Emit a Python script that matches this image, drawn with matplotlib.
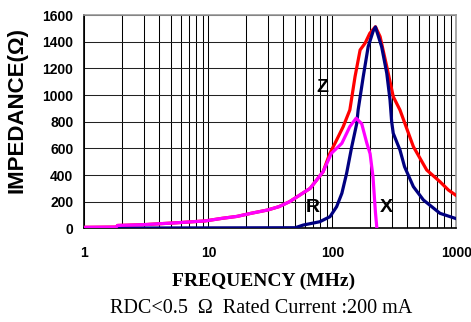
import numpy as np
import matplotlib
matplotlib.use("Agg")
from matplotlib import pyplot as plt
from matplotlib.ticker import FixedLocator, NullFormatter

# R curve (magenta)
r_freq = [1, 1.8, 1.85, 3, 5.5, 9.4, 13, 17, 22, 30, 37, 45, 66, 84, 98, 119, 138, 155, 172, 189, 201, 212, 222, 228]
r_val = [8, 10, 22, 28, 42, 56, 76, 90, 113, 138, 163, 200, 300, 425, 563, 638, 763, 826, 785, 640, 560, 390, 120, 0]

# X curve (navy)
x_freq = [1, 50, 58, 79, 95.5, 108, 119, 130, 143, 157, 161, 177, 194, 213, 222, 249, 274, 291, 300, 309,
          350, 381, 449, 541, 736, 972, 1000]
x_val = [2, 5, 25, 50, 88, 163, 263, 413, 613, 788, 888, 1138, 1363, 1480, 1510, 1363, 1163, 963, 800, 713,
         588, 463, 313, 213, 113, 76, 72]

# Z curve (red)
z_freq = [1, 1.8, 1.85, 3, 5.5, 9.4, 13, 17, 22, 30, 37, 45, 66, 84, 95, 108, 122, 138, 152, 167, 183, 200,
          222, 242, 274, 309, 350, 449, 575, 736, 860, 1000]
z_val = [8, 10, 22, 28, 42, 56, 76, 90, 113, 138, 163, 200, 300, 425, 560, 663, 763, 888, 1138, 1338, 1388, 1463,
         1512, 1438, 1213, 988, 888, 613, 438, 350, 288, 245]

labels = {"Z": (83, 1060), "R": (69, 160), "X": (274, 160)}

fig = plt.figure(figsize=(4.71, 3.22), dpi=100)
ax = fig.add_axes([0.1794, 0.2907, 0.7898, 0.6627])

ax.set_xscale("log")
ax.set_xlim(1, 1000)
ax.set_ylim(0, 1600)

ax.xaxis.set_major_locator(FixedLocator([1, 10, 100, 1000]))
ax.xaxis.set_minor_locator(FixedLocator([m * 10 ** d for d in range(3) for m in range(2, 10)]))
ax.xaxis.set_minor_formatter(NullFormatter())
ax.set_xticklabels(["1", "10", "100", "1000"])
ax.set_yticks(range(0, 1601, 200))

ax.grid(True, which="both", axis="x", color="black", lw=0.75)
ax.grid(True, which="major", axis="y", color="#222222", lw=0.75)
ax.set_axisbelow(True)

ax.plot(z_freq, z_val, color="#ff0000", lw=2.3, zorder=3)
ax.plot(x_freq, x_val, color="#000080", lw=2.3, zorder=4)
ax.plot(r_freq, r_val, color="#ff00ff", lw=2.3, zorder=5)

for name, (fx, fy) in labels.items():
    ax.text(fx, fy, name, fontsize=14, fontweight="bold", family="Liberation Sans",
            ha="center", va="center", zorder=6)

ax.tick_params(axis="y", which="both", length=0, pad=8)
ax.tick_params(axis="x", which="both", length=0, pad=13)
for lab in ax.get_xticklabels() + ax.get_yticklabels():
    lab.set_fontfamily("Liberation Sans")
    lab.set_fontweight("bold")
    lab.set_fontsize(10)

for side in ["top", "right"]:
    ax.spines[side].set_color("#999999")
    ax.spines[side].set_linewidth(1.2)
for side in ["left", "bottom"]:
    ax.spines[side].set_color("black")
    ax.spines[side].set_linewidth(1.2)

fig.text(0.036, 0.658, "IMPEDANCE(\u03a9)", rotation=90, ha="center", va="center",
         fontsize=16, fontweight="bold", family="Liberation Sans")
fig.text(0.56, 0.125, "FREQUENCY (MHz)", ha="center", va="center",
         fontsize=14, fontweight="bold", family="Liberation Serif")
fig.text(0.555, 0.043, "RDC<0.5  \u03a9  Rated Current :200 mA", ha="center", va="center",
         fontsize=14.5, family="Liberation Serif")

fig.savefig("out.png", dpi=100)
